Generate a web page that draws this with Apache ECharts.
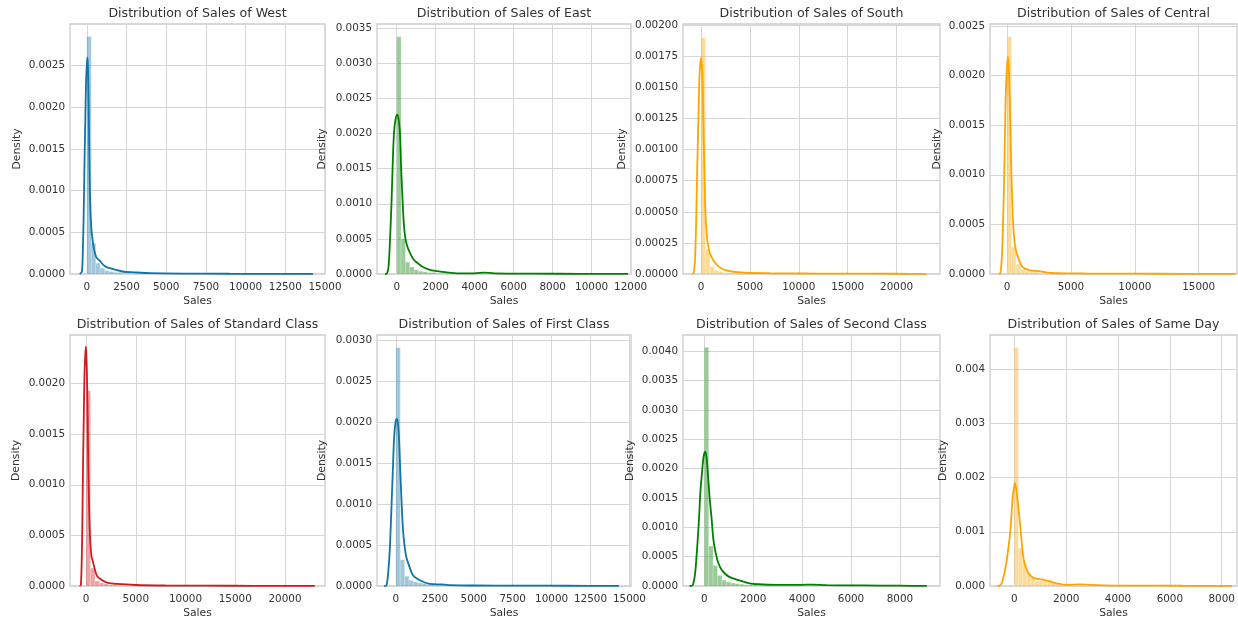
<!DOCTYPE html>
<html>
<head>
<meta charset="utf-8">
<script src="https://cdn.jsdelivr.net/npm/echarts@6/dist/echarts.min.js"></script>
<style>
  html, body { margin: 0; padding: 0; background: #fff; }
  #chart { width: 1238px; height: 621px; }
</style>
</head>
<body>
<div id="chart"></div>
<script>
// panel titles / groups
const groups = ["West", "East", "South", "Central", "Standard Class", "First Class", "Second Class", "Same Day"];

// histogram bin widths (Sales units) and bar heights (density) per group
const binWidths = [280, 224, 453, 350, 453, 280, 180, 160];
const westHist = [0.00285, 0.00037, 0.00013, 0.00007, 0.00004, 0.00003, 0.00002, 0.00002, 0.00001, 0.00001, 0.00001, 0.000008, 0.000006, 0.000005];
const eastHist = [0.00338, 0.0005, 0.00017, 0.0001, 0.00006, 0.00004, 0.00003, 0.00002, 0.00002, 0.00001, 0.00001, 0.00001];
const southHist = [0.0019, 0.0002, 0.00006, 0.00003, 0.00002, 0.00001, 0.00001, 0.000008, 0.000006];
const centralHist = [0.00239, 0.00027, 0.0001, 0.00005, 0.00003, 0.00002, 0.00002, 0.00001, 0.00001];
const standardHist = [0.00193, 0.000176, 0.00005, 0.00003, 0.00002, 0.00001, 0.00001, 0.000007];
const firstHist = [0.002915, 0.00032, 0.00012, 0.00007, 0.00005, 0.00004, 0.00003, 0.00002, 0.00002, 0.00002, 0.00002, 0.00001, 0.00001];
const secondHist = [0.00407, 0.00068, 0.00035, 0.00018, 0.0001, 0.00007, 0.00005, 0.00004, 0.00003, 0.00002, 0.00002, 0.00002];
const sameDayHist = [0.0044, 0.0007, 0.00043, 0.00024, 0.00015, 0.0001, 0.0001, 0.00009, 0.00012, 0.00006, 0.00004, 0.00002, 0.00002, 0.00001];

// kde curves [sales, density]
const westKde = [[-450, 0], [-310, 0.00003], [-250, 0.0003], [-200, 0.0007], [-150, 0.0013], [-100, 0.0018], [-50, 0.0023], [0, 0.0025], [30, 0.0026], [70, 0.0025], [110, 0.0021], [150, 0.0015], [190, 0.001], [240, 0.0007], [290, 0.00053], [370, 0.0004], [450, 0.0003], [600, 0.0002], [810, 0.00016], [1100, 0.0001], [1440, 0.00007], [2250, 0.00003], [3000, 0.00002], [4000, 0.00001], [6000, 0.000005], [9000, 0.000003], [12000, 0.000002], [14250, 0.000001]];
const eastKde = [[-600, 0], [-500, 0.00001], [-420, 0.0001], [-340, 0.0005], [-260, 0.00106], [-200, 0.0016], [-140, 0.002], [-60, 0.0022], [30, 0.00227], [100, 0.0022], [170, 0.002], [230, 0.0015], [300, 0.00106], [370, 0.0007], [450, 0.0005], [560, 0.00038], [680, 0.0003], [830, 0.00022], [1000, 0.00017], [1350, 0.0001], [1800, 0.00005], [2380, 0.00003], [3200, 0.00001], [4000, 0.00001], [4500, 0.00002], [5000, 0.00001], [7000, 0.000005], [9500, 0.000003], [11870, 0.000001]];
const southKde = [[-900, 0], [-750, 0.00001], [-620, 0.0001], [-500, 0.0004], [-380, 0.00087], [-250, 0.0013], [-150, 0.0016], [0, 0.00174], [150, 0.0016], [250, 0.0012], [340, 0.00087], [450, 0.0005], [580, 0.00033], [720, 0.00023], [900, 0.00017], [1430, 0.00009], [2200, 0.00004], [3140, 0.00002], [4500, 0.00001], [7000, 0.000006], [11000, 0.000004], [16000, 0.000003], [20000, 0.000002], [23080, 0.000001]];
const centralKde = [[-650, 0], [-520, 0.00001], [-400, 0.0002], [-300, 0.0006], [-210, 0.0011], [-140, 0.0016], [-80, 0.0019], [50, 0.00219], [120, 0.0021], [180, 0.0019], [250, 0.0015], [315, 0.0011], [400, 0.00075], [480, 0.0005], [600, 0.0003], [760, 0.00021], [1150, 0.00008], [1700, 0.00004], [2440, 0.00003], [3500, 0.00001], [6000, 0.000005], [10000, 0.000003], [14000, 0.000002], [17900, 0.000001]];
const standardKde = [[-650, 0], [-520, 0.00001], [-420, 0.0003], [-360, 0.0007], [-300, 0.00118], [-220, 0.0017], [-150, 0.0021], [-30, 0.002365], [30, 0.0023], [90, 0.0021], [160, 0.0017], [230, 0.00118], [310, 0.0008], [400, 0.0005], [540, 0.0003], [730, 0.000226], [1100, 0.0001], [1580, 0.00006], [2200, 0.00003], [3080, 0.00002], [5000, 0.00001], [8000, 0.000005], [12000, 0.000003], [17000, 0.000002], [23000, 0.000001]];
const firstKde = [[-750, 0], [-600, 0.00001], [-480, 0.0002], [-380, 0.0005], [-275, 0.00102], [-200, 0.0014], [-120, 0.0018], [-30, 0.002], [45, 0.002044], [120, 0.002], [200, 0.0018], [280, 0.0014], [365, 0.00102], [450, 0.0007], [550, 0.0005], [660, 0.00036], [790, 0.00028], [1100, 0.00013], [1530, 0.00007], [2170, 0.000025], [2700, 0.00002], [3000, 0.00002], [3500, 0.00001], [5000, 0.000006], [8000, 0.000004], [11000, 0.000003], [14320, 0.000001]];
const secondKde = [[-600, 0], [-480, 0.00001], [-380, 0.0002], [-300, 0.0006], [-215, 0.00115], [-160, 0.0016], [-100, 0.0019], [-30, 0.0022], [30, 0.00229], [90, 0.0022], [150, 0.0019], [220, 0.0015], [300, 0.00115], [370, 0.0008], [450, 0.0006], [570, 0.0004], [710, 0.000275], [1000, 0.00016], [1390, 0.0001], [1800, 0.00005], [2210, 0.00003], [3000, 0.00002], [4000, 0.00002], [4400, 0.000025], [5000, 0.000015], [6500, 0.00001], [8000, 0.000005], [9100, 0.000002]];
const sameDayKde = [[-650, 0], [-560, 0.00001], [-490, 0.00005], [-400, 0.0002], [-300, 0.00045], [-230, 0.0007], [-165, 0.00095], [-110, 0.0013], [-70, 0.0016], [-20, 0.0018], [25, 0.0019], [70, 0.0018], [120, 0.0016], [190, 0.0013], [260, 0.00095], [330, 0.0006], [400, 0.0004], [480, 0.0003], [600, 0.0002], [800, 0.00014], [1180, 0.00011], [1400, 0.00008], [1630, 0.00005], [2000, 0.00002], [2500, 0.00003], [3000, 0.00002], [4000, 0.000008], [5000, 0.000008], [6500, 0.000005], [8400, 0.000003]];

// axis ranges and tick labels
const xMins = [-1060, -1010, -1840, -1340, -1610, -1215, -870, -937];
const xMaxs = [15000, 12020, 24440, 18000, 24020, 15100, 9640, 8590];
const xTicks = [
  [0, 2500, 5000, 7500, 10000, 12500, 15000],
  [0, 2000, 4000, 6000, 8000, 10000, 12000],
  [0, 5000, 10000, 15000, 20000],
  [0, 5000, 10000, 15000],
  [0, 5000, 10000, 15000, 20000],
  [0, 2500, 5000, 7500, 10000, 12500, 15000],
  [0, 2000, 4000, 6000, 8000],
  [0, 2000, 4000, 6000, 8000]
];
const yMaxs = [0.003, 0.00356, 0.00201, 0.00252, 0.00248, 0.00307, 0.00428, 0.00463];
const yTicks = [
  [0, 0.0005, 0.001, 0.0015, 0.002, 0.0025],
  [0, 0.0005, 0.001, 0.0015, 0.002, 0.0025, 0.003, 0.0035],
  [0, 0.00025, 0.0005, 0.00075, 0.001, 0.00125, 0.0015, 0.00175, 0.002],
  [0, 0.0005, 0.001, 0.0015, 0.002, 0.0025],
  [0, 0.0005, 0.001, 0.0015, 0.002],
  [0, 0.0005, 0.001, 0.0015, 0.002, 0.0025, 0.003],
  [0, 0.0005, 0.001, 0.0015, 0.002, 0.0025, 0.003, 0.0035, 0.004],
  [0, 0.001, 0.002, 0.003, 0.004]
];
const yDecimals = [4, 4, 5, 4, 4, 4, 4, 3];

const hists = [westHist, eastHist, southHist, centralHist, standardHist, firstHist, secondHist, sameDayHist];
const kdes = [westKde, eastKde, southKde, centralKde, standardKde, firstKde, secondKde, sameDayKde];
const colors = ["#1273a8", "#008000", "#ffa500", "#ffa500", "#d01c1c", "#1273a8", "#008000", "#ffa500"];

// layout (pixels)
const colLeft = [70, 377, 683, 990];
const colRight = [325, 631, 940, 1237];
const rowTop = [24, 335];
const rowBottom = [274, 586];
const densityGap = [47, 49, 55, 47, 48, 49, 47, 41];

const FONT = "DejaVu Sans";
const TEXT = "#333333";

const chart = echarts.init(document.getElementById("chart"));

const grids = [], xAxes = [], yAxes = [], titles = [], series = [];

groups.forEach((g, i) => {
  const c = i % 4, r = Math.floor(i / 4);
  const left = colLeft[c], width = colRight[c] - colLeft[c];
  const top = rowTop[r], height = rowBottom[r] - rowTop[r];

  grids.push({ left, top, width, height, show: true, borderColor: "#cccccc", borderWidth: 1.3, backgroundColor: "#fff" });

  titles.push({
    text: "Distribution of Sales of " + g,
    left: left + width / 2, top: top - 17, textAlign: "center", padding: 0,
    textStyle: { fontFamily: FONT, fontSize: 12.6, fontWeight: "normal", color: TEXT }
  });

  xAxes.push({
    type: "value", gridIndex: i, min: xMins[i], max: xMaxs[i],
    name: "Sales", nameLocation: "middle", nameGap: 22,
    nameTextStyle: { fontFamily: FONT, fontSize: 10.8, color: TEXT },
    axisLine: { show: false },
    axisTick: { show: false, customValues: xTicks[i] },
    axisLabel: { customValues: xTicks[i], fontFamily: FONT, fontSize: 10.4, color: TEXT, margin: 8, formatter: v => String(v) },
    splitLine: { show: true, lineStyle: { color: "#d6d6d6", width: 1 } }
  });

  yAxes.push({
    type: "value", gridIndex: i, min: 0, max: yMaxs[i],
    name: "Density", nameLocation: "middle", nameGap: densityGap[i],
    nameTextStyle: { fontFamily: FONT, fontSize: 10.8, color: TEXT },
    axisLine: { show: false },
    axisTick: { show: false, customValues: yTicks[i] },
    axisLabel: { customValues: yTicks[i], fontFamily: FONT, fontSize: 10.4, color: TEXT, margin: 5, formatter: v => v.toFixed(yDecimals[i]) },
    splitLine: { show: true, lineStyle: { color: "#d6d6d6", width: 1 } }
  });

  const bars = hists[i].map((h, k) => [k * binWidths[i], (k + 1) * binWidths[i], h]);
  series.push({
    type: "custom", xAxisIndex: i, yAxisIndex: i, data: bars,
    renderItem: (params, api) => {
      const p0 = api.coord([api.value(0), api.value(2)]);
      const p1 = api.coord([api.value(1), 0]);
      return {
        type: "rect",
        shape: { x: p0[0], y: p0[1], width: p1[0] - p0[0], height: p1[1] - p0[1] },
        style: { fill: colors[i], opacity: 0.4, stroke: "#ffffff", lineWidth: 0.5 }
      };
    },
    silent: true
  });

  series.push({
    type: "line", xAxisIndex: i, yAxisIndex: i, data: kdes[i],
    showSymbol: false, smooth: 0.3,
    lineStyle: { color: colors[i], width: 1.8 }, silent: true
  });
});

chart.setOption({
  animation: false,
  backgroundColor: "#fff",
  title: titles,
  grid: grids,
  xAxis: xAxes,
  yAxis: yAxes,
  series
});
</script>
</body>
</html>
